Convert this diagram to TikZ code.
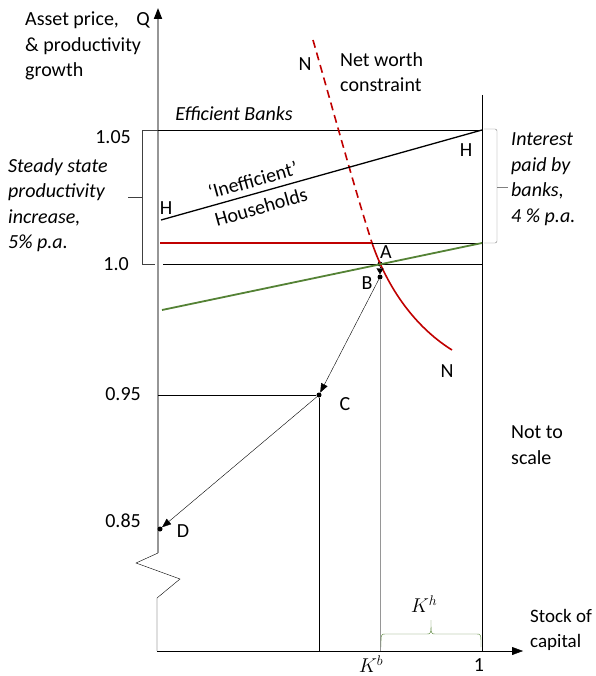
\RequirePackage{fix-cm}
\documentclass[tikz,border=0pt]{standalone}
\usepackage{fontspec}
\setmainfont{Carlito}
\usetikzlibrary{arrows.meta}
\definecolor{curvered}{RGB}{192,0,0}
\definecolor{linegreen}{RGB}{84,130,53}
\definecolor{axisgray}{RGB}{150,150,150}

\begin{document}
\begin{tikzpicture}[x=1pt, y=-1pt, font=\fontsize{20}{25.5}\selectfont,
    lab/.style={inner sep=0pt},
    txt/.style={inner sep=0pt, anchor=west, align=left},
    dot/.style={circle, fill, inner sep=0pt, minimum size=5pt},
    tip/.style={-{Triangle[length=9pt, width=7pt]}},
    axtip/.style={-{Triangle[length=11pt, width=8pt, color=black]}}]
    \useasboundingbox (0,0) rectangle (595,676);
    \def\xO{158} \def\xC{319} \def\xK{380} \def\xE{482}
    \def\yA{130} \def\yB{243} \def\yC{264} \def\yD{395} \def\yX{651}
    % Axes
    \draw[axisgray, line width=1.8pt, axtip] (\xO,553) -- (\xO,8);
    \draw (\xO,553) -- (136,563) -- (180,579) -- (157,598) -- (157,\yX);
    \draw[axtip] (157,\yX) -- (523,\yX);
    \draw (\xE,95) -- (\xE,\yX);
    % Levels
    \draw (\xO,\yA) -- (\xE,\yA);
    \draw (163,\yC) -- (\xE,\yC);
    % Points
    \node[dot] (A) at (\xK,\yC) {};
    \node[dot] (B) at (\xK,277) {};
    \node[dot] (C) at (\xC,\yD) {};
    \node[dot] (D) at (160,529) {};
    \coordinate (R) at (372,\yB);
    % Net worth constraint
    \draw[curvered, line width=1.6pt, dash pattern=on 8pt off 5pt]
        (313,40) .. controls (333,110) and (355,190) .. (R);
    \draw[curvered, line width=1.6pt]
        (R) .. controls (390,295) and (420,330) .. (452,350);
    \draw[curvered, line width=1.6pt] (160,\yB) -- (R);
    \draw (R) -- (\xE,\yB);
    % Green and H lines
    \draw[linegreen, line width=1.8pt] (162,310) -- (\xE,\yB);
    \draw[line width=1.3pt] (161,220) -- (\xE,\yA);
    % Path A-B-C-D
    \draw[-{Triangle[length=6pt, width=7pt]}] (A) -- (B);
    \draw[tip] (B) -- (C);
    \draw[tip] (C) -- (D);
    \draw[axisgray, line width=1pt] (B) -- (\xK,\yX);
    \draw (C) -- (\xC,\yX);
    \draw (\xO,\yD) -- (C);
    % Brackets
    \draw[black!75] (\xO,\yA) -- (142,\yA) -- (142,\yC) -- (155,\yC);
    \draw[black!75] (142,197) -- (128,197);
    \draw[gray, rounded corners=2pt] (484,129) -- (497,129) -- (497,\yB) -- (484,\yB);
    \draw[gray] (497,187) -- (508,187);
    \draw[linegreen] (381,647) .. controls (381,634) .. (385,634) -- (427,634)
        .. controls (431,634) .. (431,620) .. controls (431,634) .. (435,634)
        -- (477,634) .. controls (481,634) .. (481,647);
    % Labels
    \foreach \y/\lab/\xr [count=\i] in {137/1.05/131, 264/1.0/129, 394/0.95/141, 521/0.85/141}
        \node[lab, anchor=east] (tick\i) at (\xr,\y) {\lab};
    \node[txt] (ylab) at (25,46) {Asset price,\\\& productivity\\growth};
    \node[lab] (Q) at (143,20) {Q};
    \node[txt] (steady) at (8,205) {\itshape Steady state\\\itshape productivity\\\itshape increase,\\\itshape 5\% p.a.};
    \node[txt] (interest) at (511,179) {\itshape Interest\\\itshape paid by\\\itshape banks,\\\itshape 4 \% p.a.};
    \node[lab, font=\fontsize{20}{25}\itshape] (banks) at (234,114) {Efficient Banks};
    \node[lab, rotate=15.7] (ineff) at (253,180) {‘Inefficient’};
    \node[lab, rotate=15.7] (house) at (261,207) {Households};
    \node[lab] (Hl) at (166,208) {H};
    \node[lab] (Hr) at (466,150) {H};
    \node[lab] (Nt) at (305,64) {N};
    \node[lab] (Nb) at (447,371) {N};
    \node[txt] (nw) at (340,72) {Net worth\\constraint};
    \node[lab] (Alab) at (386,252) {A};
    \node[lab] (Blab) at (367,283) {B};
    \node[lab] (Clab) at (345,404) {C};
    \node[lab] (Dlab) at (183,531) {D};
    \node[txt] (scale) at (511,445) {Not to\\scale};
    \node[txt, font=\fontsize{19}{25}\selectfont] (stock) at (530,630) {Stock of\\capital};
    \node[lab] (Kb) at (371,664) {$K^b$};
    \node[lab] (one) at (479,665) {1};
    \node[lab] (Kh) at (424,604) {$K^h$};
\end{tikzpicture}
\end{document}
